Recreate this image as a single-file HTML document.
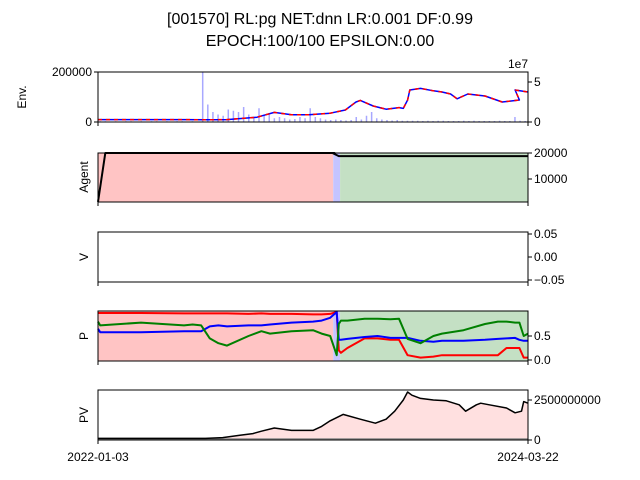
<!DOCTYPE html>
<html><head><meta charset="utf-8"><style>
body{margin:0;background:#fff;width:640px;height:480px;overflow:hidden}
svg{display:block;font-family:"Liberation Sans","DejaVu Sans",sans-serif}
</style></head><body>
<svg id="c" width="640" height="480" viewBox="0 0 640 480"></svg>
<script>
// ---- data (t = fraction of time range 0..1) ----
const priceT=[0,0.1,0.2,0.25,0.3,0.37,0.41,0.45,0.49,0.54,0.575,0.6,0.61,0.64,0.67,0.7,0.71,0.72,0.725,0.75,0.78,0.8,0.82,0.835,0.86,0.9,0.94,0.98,0.97,1];
const priceV=[0.3,0.3,0.3,0.28,0.3,0.6,1.2,0.9,0.9,1.1,1.5,2.5,2.7,2.0,1.6,1.8,1.7,2.75,4.0,4.2,3.9,3.75,3.5,2.9,3.5,3.25,2.5,2.75,4.0,3.75];
const volume=[3,3,2,3,2,3,3,2,3,2,3,3,2,3,2,3,3,2,3,2,200,70,40,30,25,50,45,40,60,30,20,55,25,30,15,20,15,10,12,20,15,55,20,15,10,8,10,8,6,8,20,10,25,40,15,10,8,6,8,5,5,5,5,4,5,4,5,5,4,4,4,5,4,5,4,4,4,4,5,4,4,20,5,4];
const agentT=[0,0.017,0.55,0.545,0.56,0.57,1];
const agentV=[1200,20000,20000,20000,18800,18800,18800];
const regions=[{a:0,b:0.547,c:'#ffc4c4'},{a:0.547,b:0.563,c:'#c4c4ff'},{a:0.563,b:1,c:'#c4e0c4'}];
const pT=[0,0.005,0.1,0.2,0.22,0.24,0.26,0.28,0.3,0.35,0.38,0.4,0.45,0.5,0.52,0.54,0.555,0.56,0.565,0.58,0.62,0.65,0.68,0.7,0.72,0.75,0.78,0.8,0.85,0.9,0.93,0.95,0.97,0.98,0.99,1];
const pRed=[0.98,0.98,0.98,0.97,0.97,0.97,0.97,0.97,0.97,0.96,0.97,0.96,0.96,0.95,0.95,0.96,1.0,0.2,0.15,0.25,0.45,0.45,0.42,0.42,0.1,0.05,0.07,0.1,0.1,0.1,0.1,0.25,0.25,0.25,0.05,0.05];
const pBlue=[0.65,0.58,0.58,0.6,0.6,0.6,0.7,0.72,0.7,0.72,0.72,0.74,0.78,0.8,0.82,0.88,1.0,0.42,0.42,0.44,0.48,0.5,0.46,0.46,0.46,0.4,0.38,0.4,0.4,0.42,0.44,0.45,0.46,0.42,0.4,0.4];
const pGreen=[0.8,0.72,0.78,0.72,0.74,0.72,0.45,0.35,0.3,0.5,0.6,0.55,0.6,0.62,0.55,0.5,0.1,0.75,0.82,0.82,0.86,0.86,0.85,0.86,0.44,0.35,0.5,0.55,0.62,0.75,0.8,0.8,0.78,0.78,0.5,0.55];
const pvT=[0,0.1,0.25,0.29,0.33,0.36,0.38,0.41,0.45,0.5,0.52,0.54,0.57,0.61,0.645,0.67,0.69,0.71,0.72,0.73,0.75,0.78,0.81,0.84,0.855,0.88,0.89,0.91,0.95,0.97,0.985,0.99,1];
const pvV=[0.1,0.1,0.1,0.15,0.3,0.4,0.55,0.75,0.6,0.6,0.85,1.2,1.6,1.3,1.05,1.3,1.8,2.5,3.0,2.8,2.6,2.5,2.45,2.2,1.8,2.2,2.3,2.2,2.0,1.7,1.8,2.4,2.3];
const envTicksL=["0","200000"], envTicksR=["0","5"], agentTicks=["10000","20000"], vTicks=["0.05","0.00","\u22120.05"], pTicks=["0.5","0.0"], pvTicks=["2500000000","0"];

const S=document.getElementById('c'), NS='http://www.w3.org/2000/svg';
const X0=98,X1=528;
const X=t=>X0+t*(X1-X0);
function el(tag,attrs,parent,txt){const e=document.createElementNS(NS,tag);for(const k in attrs)e.setAttribute(k,attrs[k]);if(txt!==undefined)e.textContent=txt;(parent||S).appendChild(e);return e;}
function text(x,y,s,anchor,size,name,extra){const t=el('text',Object.assign({x:x,y:y,'font-size':size||12,'text-anchor':anchor||'start',fill:'#000'},extra||{}),S,s);

return t;}
function frame(top,bot,name){const r=el('rect',{x:X0,y:top,width:X1-X0,height:bot-top,fill:'none',stroke:'#000','stroke-width':1});


el('line',{x1:X0,y1:bot,x2:X0,y2:bot+4,stroke:'#000'});el('line',{x1:X1,y1:bot,x2:X1,y2:bot+4,stroke:'#000'});}
function rtick(y,label,name){el('line',{x1:X1,y1:y,x2:X1+4,y2:y,stroke:'#000'});text(X1+6,y+4,label,'start',12,name);}
function ylab(x,y,s,name){text(x,y,s,'middle',12,name,{transform:`rotate(-90 ${x} ${y})`});}
function line(ts,vs,Y,color,name,w){const pts=ts.map((t,i)=>X(t).toFixed(1)+','+Y(vs[i]).toFixed(1)).join(' ');const p=el('polyline',{points:pts,fill:'none',stroke:color,'stroke-width':w||1.5,'stroke-linejoin':'round'});

return p;}
function bg(top,bot){regions.forEach((r,i)=>{const e=el('rect',{x:X(r.a),y:top,width:X(r.b)-X(r.a),height:bot-top,fill:r.c});

});}

text(320,24,"[001570] RL:pg NET:dnn LR:0.001 DF:0.99",'middle',16,'title-line-1');
text(320,46,"EPOCH:100/100 EPSILON:0.00",'middle',16,'title-line-2');

// Env panel
const eT=72,eB=122;
const YvolP=v=>eB-v/200*(eB-eT);
volume.forEach((v,i)=>{const x=X((i+0.5)/volume.length);const b=el('rect',{x:x-1,y:YvolP(v),width:1.5,height:eB-YvolP(v),fill:'#a8a8ff'});

});
const Ypr=v=>eB-v*8;
line(priceT,priceV,Ypr,'#0000ff','price-line',1.5);
line(priceT,priceV,Ypr,'#ff0000','price-line-red',1.5).setAttribute('stroke-dasharray','4 4');
frame(eT,eB,'env-axes');
el('line',{x1:X0,y1:eB,x2:X0-4,y2:eB,stroke:'#000'});el('line',{x1:X0,y1:eT,x2:X0-4,y2:eT,stroke:'#000'});
text(X0-6,eB+4,envTicksL[0],'end',12,'env-left-tick');text(X0-6,eT+4,envTicksL[1],'end',12,'env-left-tick');
rtick(Ypr(0),envTicksR[0],'env-right-tick');rtick(Ypr(5),envTicksR[1],'env-right-tick');
text(528,68,"1e7",'end',12,'price-scale-label');
ylab(26,97,"Env.",'env-y-label');

// Agent panel
const aT=153,aB=202;const Ya=v=>aB-(v-1150)/10000*26;
bg(aT,aB);
line(agentT,agentV,Ya,'#000','agent-line',2);
frame(aT,aB,'agent-axes');
rtick(Ya(20000),agentTicks[1],'agent-tick');rtick(Ya(10000),agentTicks[0],'agent-tick');
ylab(88,177,"Agent",'agent-y-label');

// V panel
const vT=232,vB=282;
frame(vT,vB,'v-axes');
rtick(234,vTicks[0],'v-tick');rtick(257,vTicks[1],'v-tick');rtick(280,vTicks[2],'v-tick');
ylab(88,257,"V",'v-y-label');

// P panel
const qT=311,qB=361;const Yp=v=>360-v*48;
bg(qT,qB);
line(pT,pRed,Yp,'#ff0000','p-red-line',2);
line(pT,pBlue,Yp,'#0000ff','p-blue-line',2);
line(pT,pGreen,Yp,'#008000','p-green-line',2);
frame(qT,qB,'p-axes');
rtick(Yp(0.5),pTicks[0],'p-tick');rtick(Yp(0),pTicks[1],'p-tick');
ylab(88,336,"P",'p-y-label');

// PV panel
const vvT=390,vvB=440;const Ypv=v=>440-v*16;
const area=pvT.map((t,i)=>X(t).toFixed(1)+','+Ypv(pvV[i]).toFixed(1)).join(' ')+` ${X1},${Ypv(0)} ${X0},${Ypv(0)}`;
const ar=el('polygon',{points:area,fill:'#ffe0e0'});


el('line',{x1:X0,y1:439,x2:X1,y2:439,stroke:'#888','stroke-width':1.5});
line(pvT,pvV,Ypv,'#000','pv-line',1.5);
frame(vvT,vvB,'pv-axes');
rtick(Ypv(2.5),pvTicks[0],'pv-tick');rtick(Ypv(0),pvTicks[1],'pv-tick');
ylab(88,415,"PV",'pv-y-label');
text(X0,461,"2022-01-03",'middle',12,'x-start-date');
text(X1,461,"2024-03-22",'middle',12,'x-end-date');
</script>
</body></html>
